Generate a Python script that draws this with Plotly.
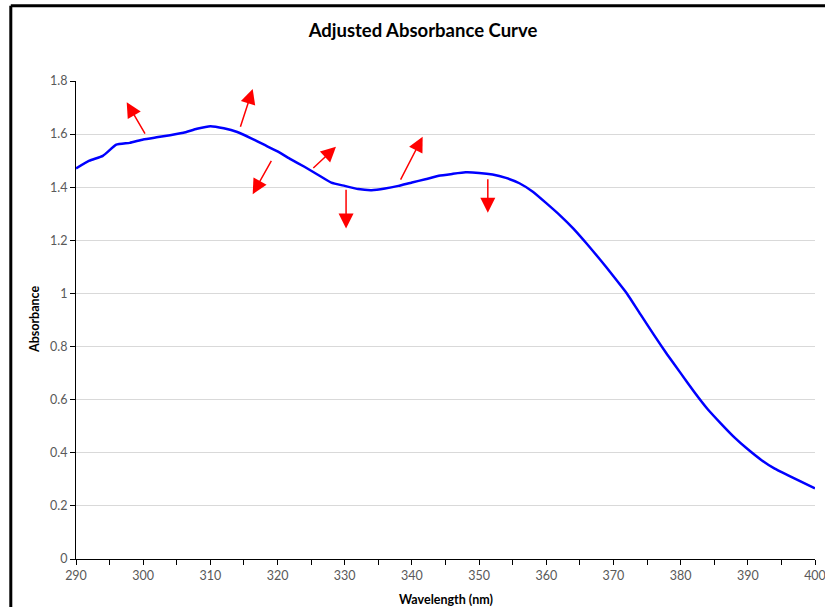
import plotly.graph_objects as go

# Absorbance spectrum (nm vs. adjusted absorbance)
wavelength = [290, 292, 294, 296, 298, 300, 302, 304, 306, 308,
              310, 312, 314, 316, 318, 320, 322, 324, 326, 328,
              330, 332, 334, 336, 338, 340, 342, 344, 346, 348,
              350, 352, 354, 356, 358, 360, 362, 364, 366, 368,
              370, 372, 374, 376, 378, 380, 382, 384, 386, 388,
              390, 392, 394, 396, 398, 400]
absorbance = [1.471, 1.500, 1.518, 1.560, 1.567, 1.580, 1.588, 1.596, 1.605, 1.620,
              1.630, 1.622, 1.608, 1.585, 1.560, 1.535, 1.505, 1.477, 1.447, 1.417,
              1.405, 1.393, 1.389, 1.395, 1.405, 1.418, 1.430, 1.443, 1.450, 1.456,
              1.454, 1.448, 1.435, 1.415, 1.383, 1.340, 1.295, 1.245, 1.188, 1.128,
              1.065, 1.000, 0.922, 0.845, 0.770, 0.700, 0.630, 0.565, 0.510, 0.458,
              0.413, 0.373, 0.340, 0.315, 0.290, 0.266]

# Direction markers: tails and tips in data units
arrow_tails_x = [300.4, 314.4, 319.2, 325.1, 330.2, 338.2, 351.3]
arrow_tails_y = [1.596, 1.622, 1.505, 1.467, 1.396, 1.423, 1.436]
arrow_tips_x = [297.55, 316.3, 316.3, 328.7, 330.2, 341.6, 351.3]
arrow_tips_y = [1.720, 1.770, 1.374, 1.552, 1.245, 1.590, 1.304]

x_ticks = list(range(290, 401, 10))
y_ticks = [0, 0.2, 0.4, 0.6, 0.8, 1.0, 1.2, 1.4, 1.6, 1.8]

FONT = "Lato, 'Open Sans', sans-serif"
TICK_COLOR = "#595959"

fig = go.Figure()
fig.add_trace(go.Scatter(
    x=wavelength, y=absorbance, mode="lines",
    line=dict(color="#0000ff", width=2.5, shape="spline", smoothing=0.4),
    showlegend=False,
))

for tx, ty, hx, hy in zip(arrow_tails_x, arrow_tails_y, arrow_tips_x, arrow_tips_y):
    fig.add_annotation(
        x=hx, y=hy, ax=tx, ay=ty, xref="x", yref="y", axref="x", ayref="y",
        text="", showarrow=True, arrowhead=2, arrowsize=2, arrowwidth=1.5,
        arrowcolor="#ff0000", standoff=0, startstandoff=0,
    )

# axis titles
fig.add_annotation(
    text="<b>Absorbance</b>", xref="paper", yref="paper",
    x=(34 - 76) / 739, y=0.5, xanchor="center", yanchor="middle",
    textangle=-90, showarrow=False, font=dict(family=FONT, size=12.5, color="black"),
)
fig.add_annotation(
    text="<b>Wavelength (nm)</b>", xref="paper", yref="paper",
    x=0.5, y=(559 - 599) / 478, xanchor="center", yanchor="middle",
    showarrow=False, font=dict(family=FONT, size=12.5, color="black"),
)

# chart frame (left and top edges)
frame_x = (10.8 - 76) / 739
frame_y = (559 - 5.8) / 478
fig.add_shape(type="line", xref="paper", yref="paper",
              x0=frame_x, x1=frame_x, y0=-0.2, y1=frame_y,
              line=dict(color="black", width=3))
fig.add_shape(type="line", xref="paper", yref="paper",
              x0=frame_x, x1=1.1, y0=frame_y, y1=frame_y,
              line=dict(color="black", width=3))

fig.update_layout(
    width=825, height=607,
    margin=dict(l=76, r=10, t=81, b=48),
    paper_bgcolor="white", plot_bgcolor="white",
    font=dict(family=FONT, color=TICK_COLOR, size=12.5),
    title=dict(
        text="<b>Adjusted Absorbance Curve</b>",
        x=423 / 825, xanchor="center", y=1 - 31 / 607, yanchor="middle",
        font=dict(family=FONT, size=18.5, color="black"),
    ),
    xaxis=dict(
        range=[290, 400], tickvals=x_ticks, showgrid=False, zeroline=False,
        showline=True, linecolor="black", linewidth=1,
        ticks="outside", ticklen=5, tickcolor="black", tickwidth=1,
        minor=dict(ticks="outside", dtick=5, tick0=290, ticklen=5,
                   tickcolor="black", showgrid=False),
        tickfont=dict(family=FONT, size=12.5, color=TICK_COLOR),
        ticklabeloverflow="allow", automargin=False,
    ),
    yaxis=dict(
        range=[0, 1.8], tickvals=y_ticks, showgrid=True, gridcolor="#d9d9d9",
        gridwidth=1, zeroline=False, showline=True, linecolor="black",
        linewidth=1, ticks="outside", ticklen=5, tickcolor="black",
        tickfont=dict(family=FONT, size=12.5, color=TICK_COLOR),
        automargin=False,
    ),
)

fig.write_html("out.html")
